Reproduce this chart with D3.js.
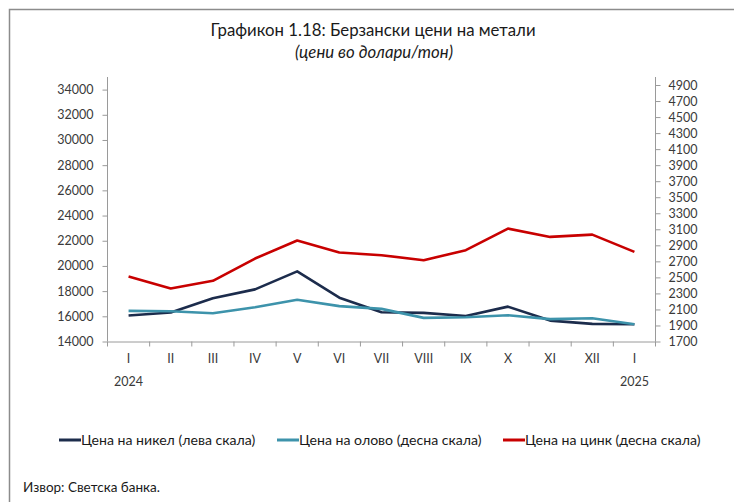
<!DOCTYPE html>
<html>
<head>
<meta charset="utf-8">
<script src="https://cdn.jsdelivr.net/npm/d3@7"></script>
<style>
  html, body { margin: 0; padding: 0; background: #fff; }
  svg { display: block; font-family: Lato, "Open Sans", sans-serif; }
</style>
</head>
<body>
<svg id="chart" width="734" height="502"></svg>
<script>
const months = ["I","II","III","IV","V","VI","VII","VIII","IX","X","XI","XII","I "];
const yearLabels = [{i:0, t:"2024"}, {i:12, t:"2025"}];
const nickel = [16060,16300,17430,18140,19570,17480,16320,16270,16030,16770,15660,15400,15370];
const lead   = [2082,2078,2053,2128,2220,2141,2107,1995,2003,2028,1979,1991,1916];
const zinc   = [2511,2361,2457,2735,2960,2810,2777,2714,2839,3109,3005,3034,2818];
const leftTicks  = d3.range(14000, 34001, 2000);
const rightTicks = d3.range(1700, 4901, 200);
const seriesNames = ["Цена на никел (лева скала)", "Цена на олово (десна скала)", "Цена на цинк (десна скала)"];
const colors = ["#1c2c4c", "#3d93ab", "#c80000"];

const svg = d3.select("#chart");
const pL = 107.5, pR = 655.5, pT = 77, pB = 341.5;
const axisColor = "#9a9a9a", textColor = "#3a3a3a";

// frame
svg.append("path").attr("d", "M9.5,502 L9.5,9.5 L734,9.5")
  .attr("fill", "none").attr("stroke", "#8c8c8c").attr("stroke-width", 1.5);

// titles
svg.append("text").attr("x", 373).attr("y", 36).attr("text-anchor", "middle")
  .attr("font-size", 16.8).attr("fill", "#1a1a1a").text("Графикон 1.18: Берзански цени на метали");
svg.append("text").attr("x", 374).attr("y", 58).attr("text-anchor", "middle")
  .attr("font-size", 16.8).attr("font-style", "italic").attr("fill", "#1a1a1a").text("(цени во долари/тон)");

const x = d3.scaleBand().domain(months).range([pL, pR]);
const yL = d3.scaleLinear().domain([14000, 35000]).range([pB, pT]);
const yR = d3.scaleLinear().domain([1700, 5000]).range([pB, pT]);

// left axis
const gL = svg.append("g").attr("transform", `translate(${pL},0)`)
  .call(d3.axisLeft(yL).tickValues(leftTicks).tickSize(5).tickPadding(9).tickFormat(d3.format("d")));
// right axis
const gR = svg.append("g").attr("transform", `translate(${pR},0)`)
  .call(d3.axisRight(yR).tickValues(rightTicks).tickSize(5).tickPadding(8).tickFormat(d3.format("d")));
[gL, gR].forEach(g => {
  g.select(".domain").attr("stroke", axisColor).attr("d", `M0,${pT}V${pB}`);
  g.selectAll(".tick line").attr("stroke", axisColor);
  g.selectAll(".tick text").attr("fill", textColor).attr("font-size", 12.5).attr("font-family", "Lato, sans-serif");
});

// x axis
const gX = svg.append("g").attr("transform", `translate(0,${pB})`)
  .call(d3.axisBottom(x).tickSize(0).tickPadding(13));
gX.select(".domain").attr("stroke", axisColor);
gX.selectAll(".tick text").attr("fill", textColor).attr("font-size", 12.5).attr("font-family", "Lato, sans-serif");
const bounds = months.map(m => x(m)).concat([x(months[months.length-1]) + x.bandwidth()]);
gX.selectAll("line.bt").data(bounds).enter().append("line").attr("class", "bt")
  .attr("x1", d => d).attr("x2", d => d).attr("y1", 0).attr("y2", 5).attr("stroke", axisColor);
gX.selectAll("text.yr").data(yearLabels).enter().append("text").attr("class", "yr")
  .attr("x", d => x(months[d.i]) + x.bandwidth()/2).attr("y", 44).attr("text-anchor", "middle")
  .attr("fill", textColor).attr("font-size", 12.5).attr("font-family", "Lato, sans-serif").text(d => d.t);

const cx = (d, i) => x(months[i]) + x.bandwidth()/2;
const lineL = d3.line().x(cx).y(d => yL(d));
const lineR = d3.line().x(cx).y(d => yR(d));
const data = [{v: nickel, l: lineL}, {v: lead, l: lineR}, {v: zinc, l: lineR}];
data.forEach((s, k) => {
  svg.append("path").attr("d", s.l(s.v)).attr("fill", "none")
    .attr("stroke", colors[k]).attr("stroke-width", 2.6).attr("stroke-linejoin", "round");
});

// legend
const legX = [59, 277, 503];
const lg = svg.append("g");
seriesNames.forEach((n, k) => {
  lg.append("line").attr("x1", legX[k]).attr("x2", legX[k] + 22).attr("y1", 440).attr("y2", 440)
    .attr("stroke", colors[k]).attr("stroke-width", 3);
  lg.append("text").attr("x", legX[k] + 22).attr("y", 445).attr("font-size", 14.1)
    .attr("fill", "#1a1a1a").text(n);
});

// source
svg.append("text").attr("x", 23).attr("y", 492).attr("font-size", 13.5)
  .attr("fill", "#1a1a1a").text("Извор: Светска банка.");
</script>
</body>
</html>
